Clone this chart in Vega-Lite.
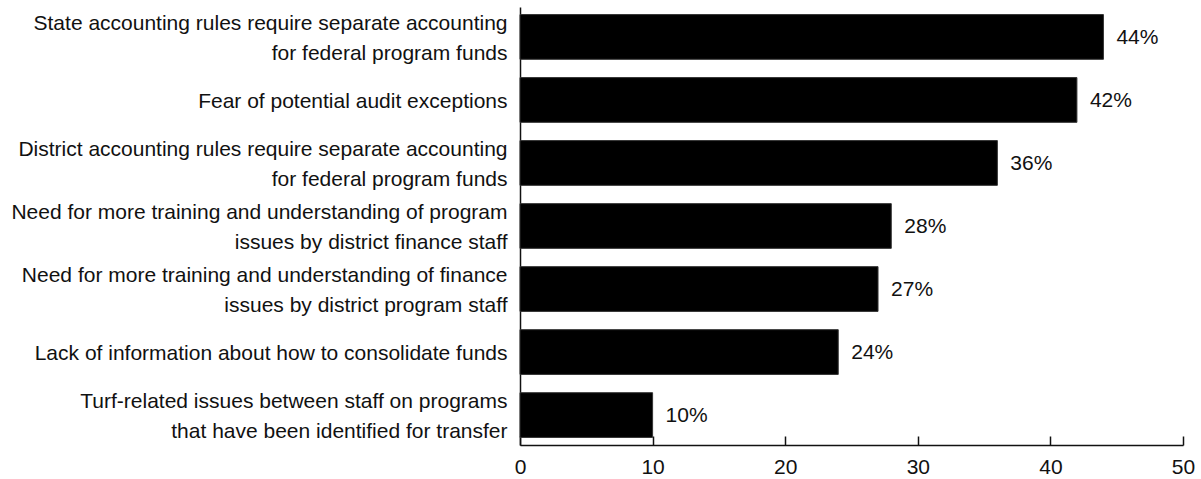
{
  "$schema": "https://vega.github.io/schema/vega-lite/v6.json",
  "width": 663,
  "height": 438,
  "autosize": {"type": "none"},
  "padding": {"left": 520, "top": 7, "right": 18, "bottom": 34},
  "background": "white",
  "config": {
    "view": {"stroke": null},
    "font": "Liberation Sans, Arial, sans-serif"
  },
  "data": {
    "values": [
      {"label": "State accounting rules require separate accounting|for federal program funds", "value": 44},
      {"label": "Fear of potential audit exceptions", "value": 42},
      {"label": "District accounting rules require separate accounting|for federal program funds", "value": 36},
      {"label": "Need for more training and understanding of program|issues by district finance staff", "value": 28},
      {"label": "Need for more training and understanding of finance|issues by district program staff", "value": 27},
      {"label": "Lack of information about how to consolidate funds", "value": 24},
      {"label": "Turf-related issues between staff on programs|that have been identified for transfer", "value": 10}
    ]
  },
  "encoding": {
    "y": {
      "field": "label",
      "type": "nominal",
      "sort": null,
      "scale": {"paddingInner": 0.29, "paddingOuter": 0.12},
      "axis": {
        "title": null,
        "labelExpr": "split(datum.label, '|')",
        "labelFont": "Liberation Sans, Arial, sans-serif",
        "labelFontSize": 21,
        "labelLineHeight": 30,
        "labelColor": "#111",
        "labelPadding": 13,
        "labelOffset": {"condition": {"test": "indexof(datum.value, '|') >= 0", "value": -13}, "value": 2},
        "labelLimit": 600,
        "ticks": false,
        "domainColor": "#111",
        "domainWidth": 1.5
      }
    }
  },
  "layer": [
    {
      "mark": {"type": "bar", "color": "#000", "stroke": "#333", "strokeWidth": 1},
      "encoding": {
        "x": {
          "field": "value",
          "type": "quantitative",
          "scale": {"domain": [0, 50], "nice": false},
          "axis": {
            "title": null,
            "values": [0, 10, 20, 30, 40, 50],
            "grid": false,
            "tickSize": -9,
            "tickColor": "#111",
            "tickWidth": 1.5,
            "domainColor": "#111",
            "domainWidth": 1.5,
            "labelFont": "Liberation Sans, Arial, sans-serif",
            "labelFontSize": 21,
            "labelColor": "#111",
            "labelPadding": 20,
            "labelFlush": false
          }
        }
      }
    },
    {
      "mark": {
        "type": "text",
        "align": "left",
        "baseline": "middle",
        "dx": 13,
        "dy": 1,
        "fontSize": 21,
        "font": "Liberation Sans, Arial, sans-serif",
        "color": "#111",
        "text": {"expr": "datum.value + '%'"}
      },
      "encoding": {
        "x": {"field": "value", "type": "quantitative"}
      }
    }
  ]
}
